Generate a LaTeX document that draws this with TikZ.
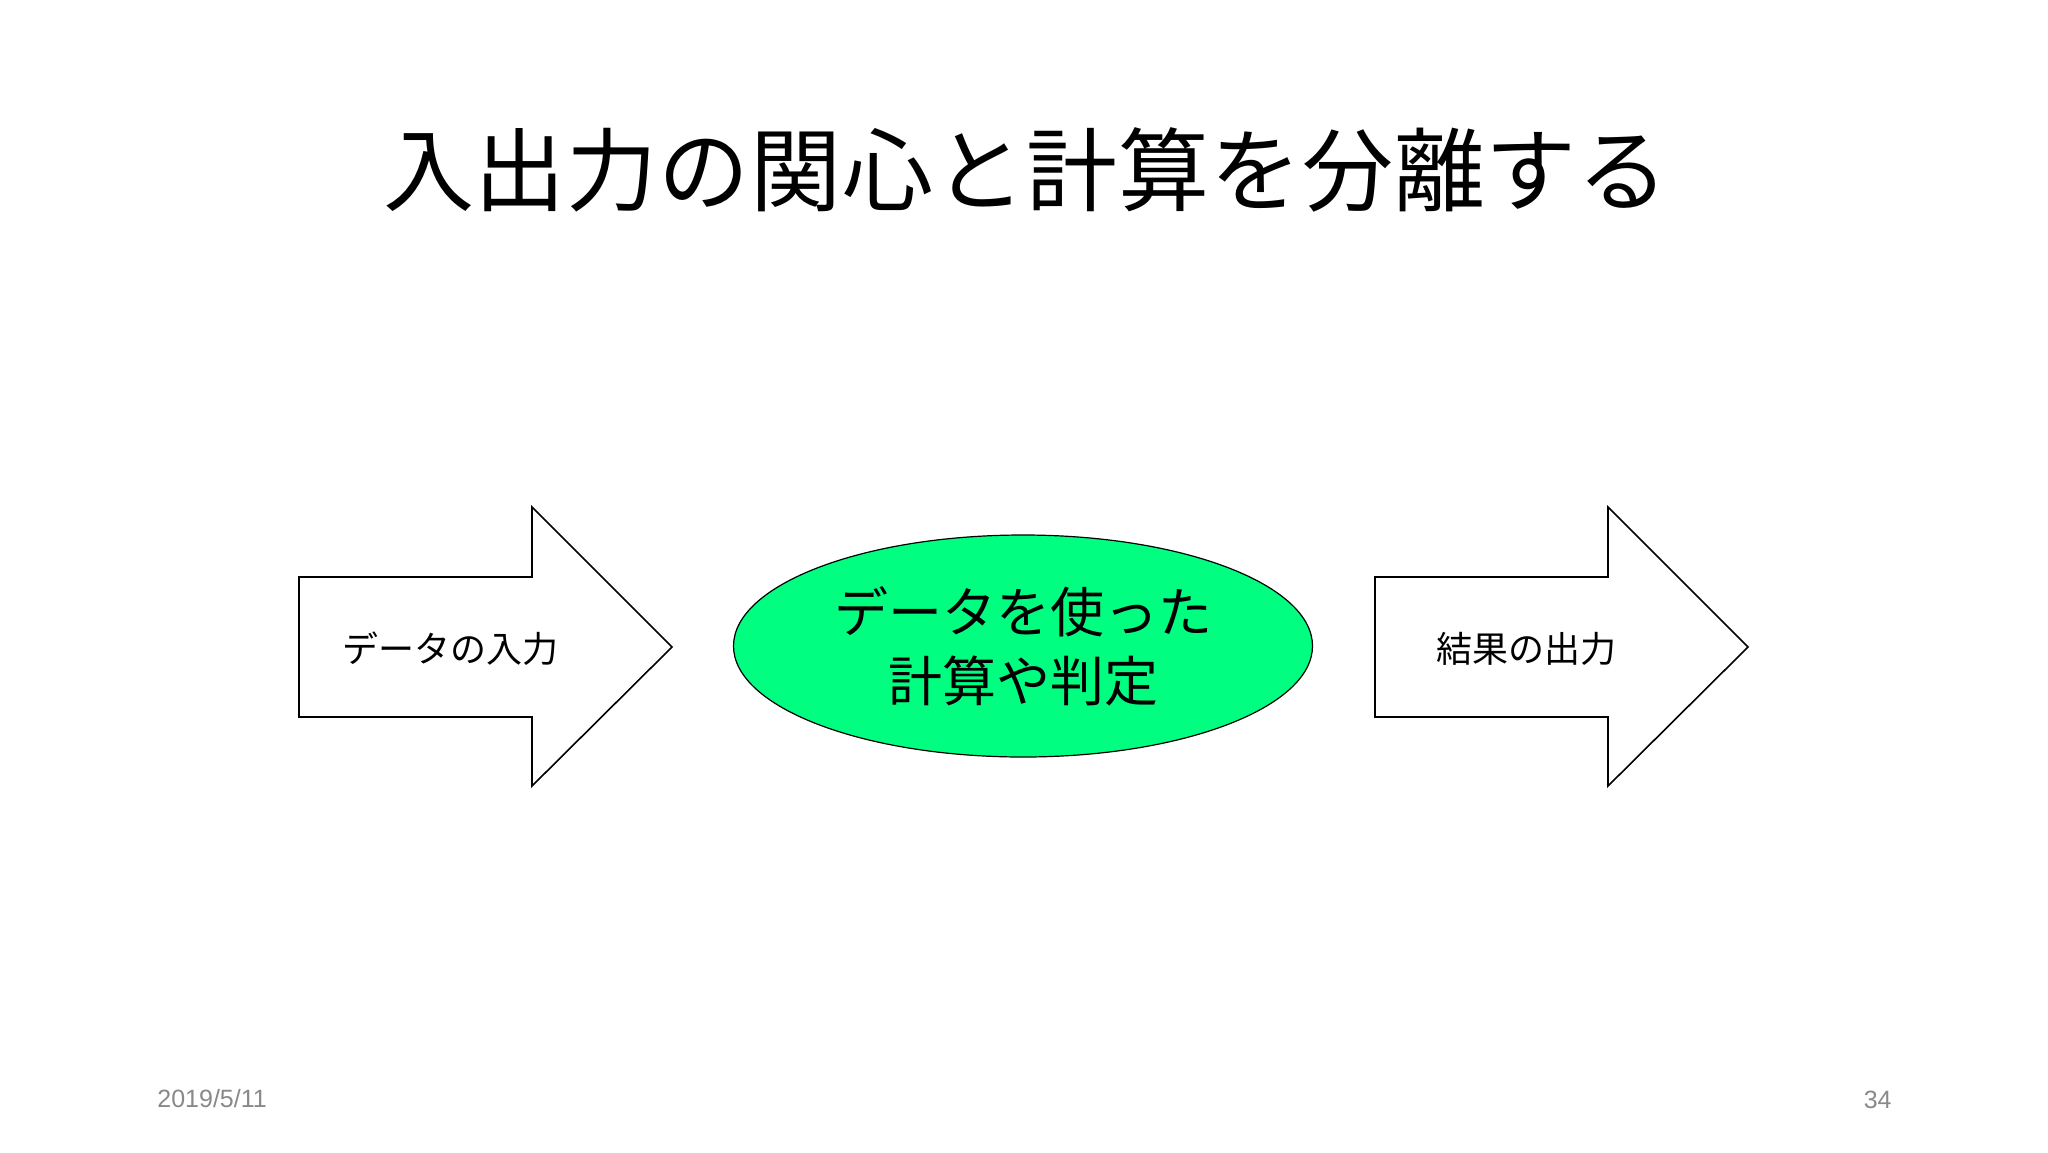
\documentclass[tikz,border=0pt]{standalone}
\usepackage{fontspec}
\setmainfont{Liberation Sans}
\newfontfamily\jp{Noto Sans CJK JP}
\newfontfamily\jptitle[LetterSpace=1]{Noto Sans CJK JP}
\definecolor{calc}{RGB}{0, 255, 128}
\definecolor{foot}{RGB}{137, 137, 137}
\usetikzlibrary{shapes.geometric}

\begin{document}
\begin{tikzpicture}[x=0.5pt, y=-0.5pt]
[every node/.style={inner sep=0pt}]
\fill [white] (0, 0) rectangle (2048, 1152);
\useasboundingbox (0, 0) rectangle (2048, 1152);
% title
\node (title) [inner sep=0pt, font=\jptitle\fontsize{45.5}{50}\selectfont] at (1026, 170) {入出力の関心と計算を分離する};
% input arrow
\draw [line width=0.8pt, color=black, fill=white] (299, 577) -- (532, 577) -- (532, 507) -- (672, 647) -- (532, 786) -- (532, 717) -- (299, 717) -- cycle;
\node (in) [inner sep=0pt, font=\jp\fontsize{18}{22}\selectfont] at (450, 649) {データの入力};
% calculation
\node (calc) [ellipse, minimum width=289.5pt, minimum height=111pt, fill=calc, line width=0.6pt, draw=black, align=center, inner sep=0pt, font=\jp\fontsize{27}{34.5}\selectfont] at (1023, 646) {\raisebox{-2pt}{データを使った}\\\raisebox{-2pt}{計算や判定}};
% output arrow
\draw [line width=0.8pt, color=black, fill=white] (1375, 577) -- (1608, 577) -- (1608, 507) -- (1748, 647) -- (1608, 786) -- (1608, 717) -- (1375, 717) -- cycle;
\node (out) [inner sep=0pt, font=\jp\fontsize{18}{22}\selectfont] at (1526, 649) {結果の出力};
% footer
\node (date) [anchor=west, inner sep=0pt, color=foot, font=\fontsize{12.5}{15}\selectfont] at (157, 1099) {2019/5/11};
\node (page) [anchor=east, inner sep=0pt, color=foot, font=\fontsize{12.5}{15}\selectfont] at (1892, 1100) {34};
\end{tikzpicture}
\end{document}
